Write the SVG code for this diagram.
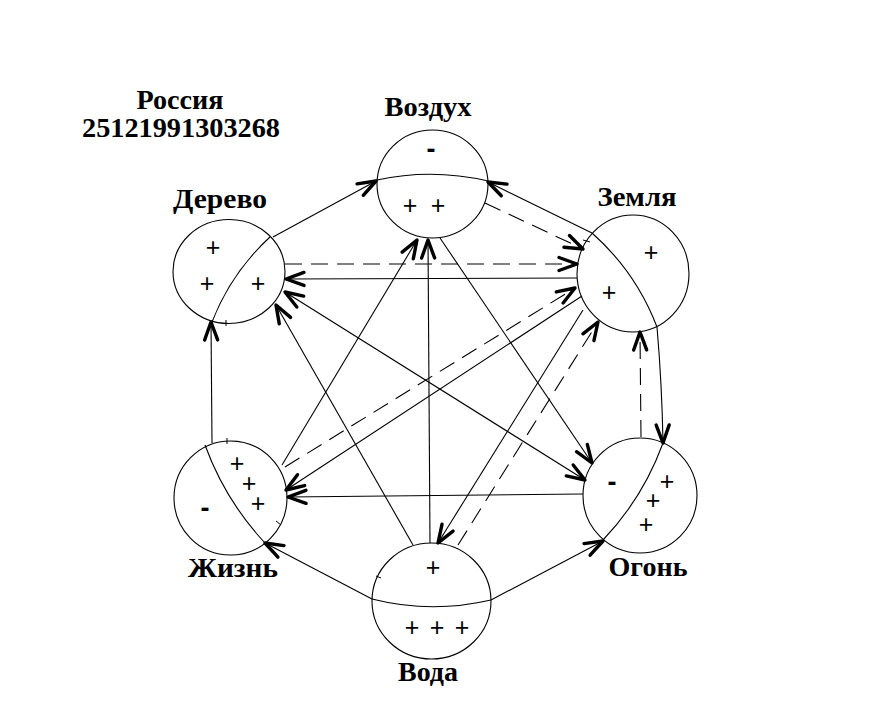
<svg xmlns="http://www.w3.org/2000/svg" width="869" height="706" viewBox="0 0 869 706">
<defs>
<style>
.ring{fill:none;stroke:#000;stroke-width:1.1}
.arc{fill:none;stroke:#000;stroke-width:1.1}
.c{fill:none;stroke:#000;stroke-width:1.1;marker-end:url(#ah)}
.d{stroke-dasharray:17 9}
.lbl{font-family:"Liberation Serif","Times New Roman",serif;font-weight:bold;font-size:28px;fill:#000;text-anchor:middle}
.t{font-size:27px}
.s{font-family:"Liberation Sans",Arial,sans-serif;font-size:25px;fill:#000;text-anchor:middle}
.m{font-family:"Liberation Sans",Arial,sans-serif;font-size:27px;font-weight:bold;fill:#000;text-anchor:middle}
.tk{stroke:#000;stroke-width:1}
</style>
<marker id="ah" markerUnits="userSpaceOnUse" markerWidth="26" markerHeight="22" viewBox="-22 -11 26 22" refX="0" refY="0" orient="auto">
<path d="M-18,-6.5 L0,0 L-18,6.5" fill="none" stroke="#000" stroke-width="3.4" stroke-linecap="round" stroke-linejoin="round"/>
</marker>
<marker id="ahs" markerUnits="userSpaceOnUse" markerWidth="26" markerHeight="22" viewBox="-22 -11 26 22" refX="0" refY="0" orient="auto-start-reverse">
<path d="M-18,-6.5 L0,0 L-18,6.5" fill="none" stroke="#000" stroke-width="3.4" stroke-linecap="round" stroke-linejoin="round"/>
</marker>
</defs>
<rect width="869" height="706" fill="#fff"/>

<g id="title">
<text class="lbl t" x="180" y="109" textLength="87" lengthAdjust="spacingAndGlyphs">Россия</text>
<text class="lbl t" x="181" y="137" textLength="198" lengthAdjust="spacingAndGlyphs">25121991303268</text>
</g>

<g id="connectors">
<path class="c" d="M273,237 L376,181"/>
<path class="c" d="M592,233 L488,182"/>
<path class="c d" d="M485,203 L583,249"/>
<path class="c d" d="M285,264 L577,264"/>
<path class="c" d="M577,278 L286,279"/>
<path class="c" d="M585,480 L285,292" style="marker-start:url(#ahs)"/>
<path class="c" d="M440,238 L592,463"/>
<path class="c" d="M413,545 L276,305"/>
<path class="c" d="M430,543 L428,240"/>
<path class="c" d="M282,465 L417,240"/>
<path class="c d" d="M285,467 L575,288"/>
<path class="c" d="M582,296 L286,490"/>
<path class="c" d="M583,494 L288,497"/>
<path class="c" d="M583,310 L438,543"/>
<path class="c d" d="M458,545 L598,322"/>
<path class="c" d="M372,599 L265,543"/>
<path class="c" d="M491,600 L603,541"/>
<path class="c" d="M657,327 Q662,385 663,443"/>
<path class="c d" d="M641,437 L640,332"/>
<path class="c" d="M212,443 L211,322"/>
</g>

<g id="vozdukh">
<ellipse class="ring" cx="432.5" cy="184" rx="55.5" ry="54"/>
<path class="arc" d="M377,180 Q432,168 488,181"/>
<text class="lbl" x="428" y="116" textLength="87" lengthAdjust="spacingAndGlyphs">Воздух</text>
<text class="m" x="431" y="158">-</text>
<text class="s" x="410" y="214">+</text>
<text class="s" x="438" y="214">+</text>
</g>

<g id="derevo">
<ellipse class="ring" cx="229" cy="271.5" rx="56" ry="52"/>
<path class="arc" d="M212,322 Q231,273 270,237"/>
<text class="lbl" x="220" y="208" textLength="94" lengthAdjust="spacingAndGlyphs">Дерево</text>
<text class="s" x="213" y="256">+</text>
<text class="s" x="207" y="292">+</text>
<text class="s" x="258" y="292">+</text>
<line class="tk" x1="226" y1="320" x2="226" y2="326"/>
</g>

<g id="zemlya">
<ellipse class="ring" cx="633" cy="273.5" rx="56" ry="58.5"/>
<path class="arc" d="M592,233 Q636,272 657,327"/>
<text class="lbl" x="637" y="206" textLength="79" lengthAdjust="spacingAndGlyphs">Земля</text>
<text class="s" x="651" y="261">+</text>
<text class="s" x="609" y="301">+</text>
<line class="tk" x1="583" y1="240" x2="590" y2="242"/>
</g>

<g id="zhizn">
<ellipse class="ring" cx="230.5" cy="498" rx="56.5" ry="57"/>
<path class="arc" d="M205,445 Q225,500 265,543"/>
<text class="lbl" x="233" y="577" textLength="90" lengthAdjust="spacingAndGlyphs">Жизнь</text>
<text class="s" x="237" y="472">+</text>
<text class="s" x="249" y="492">+</text>
<text class="s" x="258" y="512">+</text>
<text class="m" x="205" y="517">-</text>
<line class="tk" x1="227" y1="438" x2="227" y2="444"/>
<line class="tk" x1="276" y1="521" x2="281" y2="525"/>
</g>

<g id="ogon">
<ellipse class="ring" cx="640" cy="495.5" rx="57" ry="57.5"/>
<path class="arc" d="M663,443 Q643,498 603,540"/>
<text class="lbl" x="648" y="576" textLength="79" lengthAdjust="spacingAndGlyphs">Огонь</text>
<text class="s" x="667" y="490">+</text>
<text class="s" x="653" y="509">+</text>
<text class="s" x="646" y="533">+</text>
<text class="m" x="612" y="491">-</text>
</g>

<g id="voda">
<ellipse class="ring" cx="431.5" cy="601" rx="59.5" ry="58"/>
<path class="arc" d="M372,599 Q431,614 491,600"/>
<text class="lbl" x="428" y="681" textLength="60" lengthAdjust="spacingAndGlyphs">Вода</text>
<text class="s" x="433" y="576">+</text>
<text class="s" x="412" y="636">+</text>
<text class="s" x="437" y="636">+</text>
<text class="s" x="462" y="636">+</text>
<line class="tk" x1="376" y1="576" x2="381" y2="578"/>
</g>
</svg>
